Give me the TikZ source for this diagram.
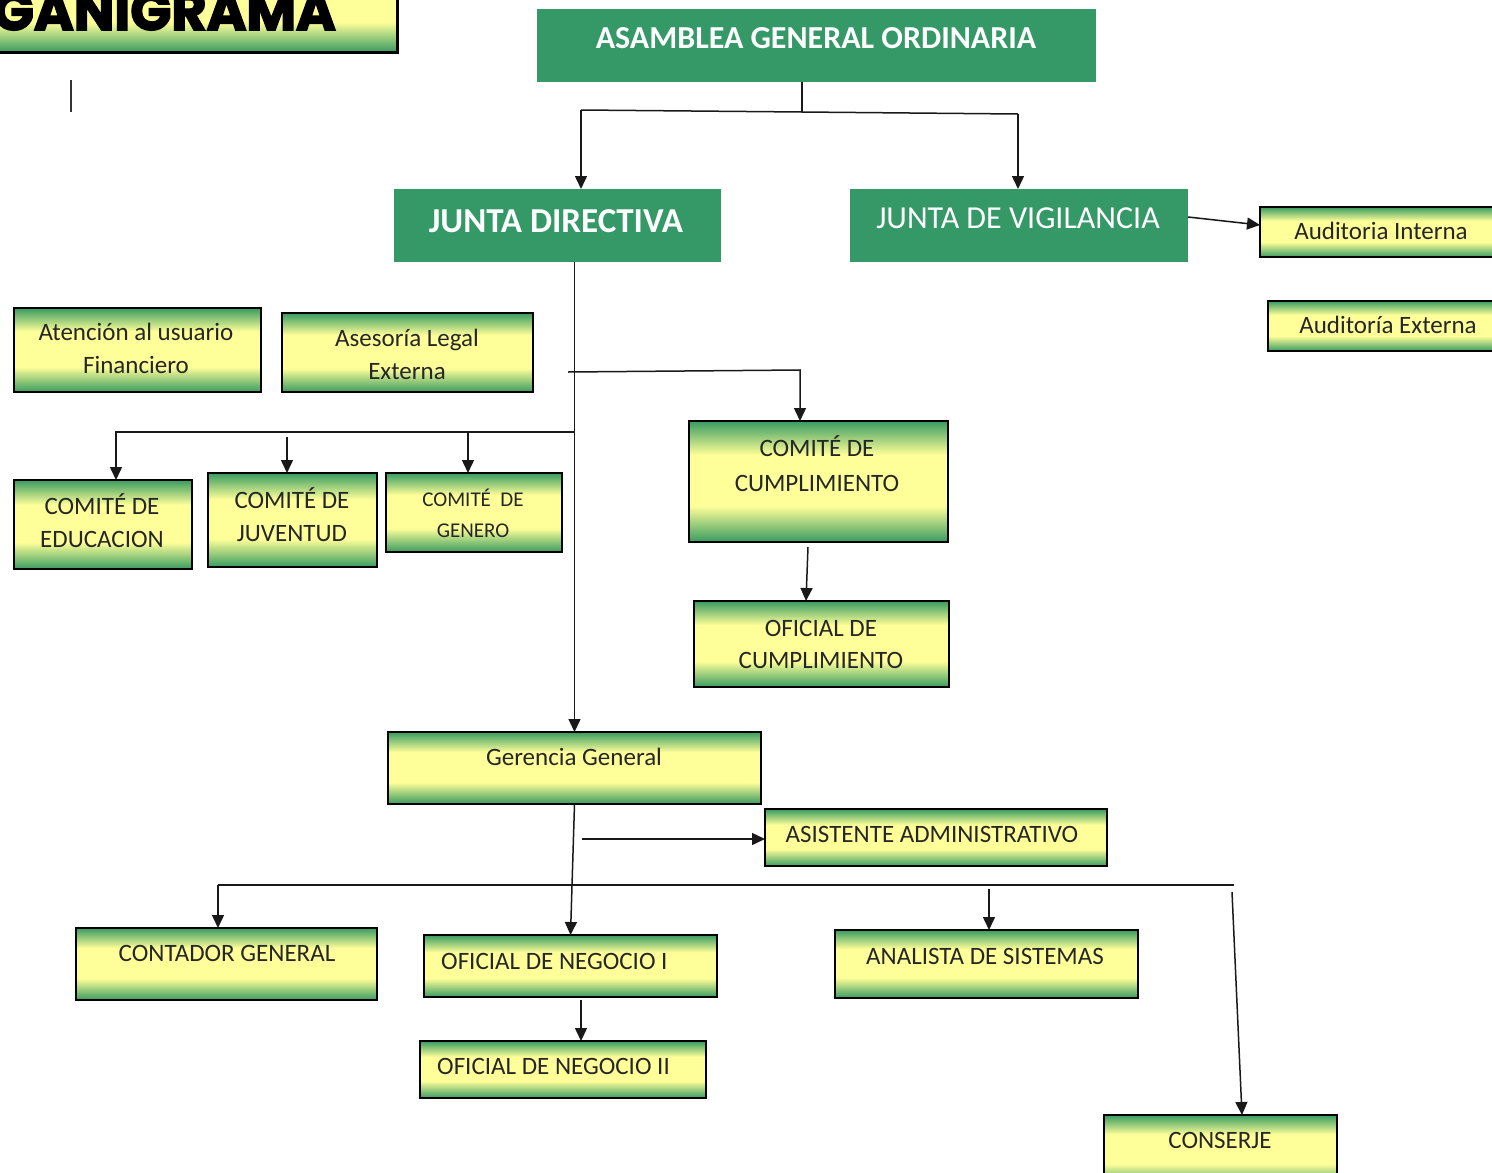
\documentclass[tikz,border=0pt]{standalone}
\usepackage{fontspec}
\setmainfont{Carlito}
\newfontfamily\titlefont[FakeBold=3]{Poppins}
\usetikzlibrary{arrows.meta,calc}
\definecolor{gdark}{RGB}{56,155,96}
\definecolor{gbox}{RGB}{52,153,102}
\definecolor{ylw}{RGB}{255,255,153}
\pgfdeclareverticalshading{gyshade}{100bp}{color(0bp)=(gdark); color(25bp)=(gdark); color(40bp)=(ylw); color(61bp)=(ylw); color(75bp)=(gdark); color(100bp)=(gdark)}
\tikzset{
  ybox/.style={draw=black, line width=1.8pt, shading=gyshade, inner sep=0pt, outer sep=0pt},
  gboxs/.style={fill=gbox, draw=none, inner sep=0pt, outer sep=0pt},
  lbl/.style={inner sep=0pt, align=center, text=black!85, font=\fontsize{25}{33}\selectfont},
  glbl/.style={inner sep=0pt, align=center, text=white},
  conn/.style={line width=1.5pt, draw=black!90},
  arr/.style={conn, -{Triangle[width=12pt,length=13pt]}}
}
\begin{document}
\begin{tikzpicture}[x=1pt,y=-1pt]
\useasboundingbox (0,0) rectangle (1492,1173);
\clip (0,0) rectangle (1492,1173);
% title
\node[ybox, line width=3pt, minimum width=420, minimum height=100] (title) at (187,2) {};
\node[anchor=base east, inner sep=0pt, font=\titlefont\bfseries\fontsize{54}{56}\selectfont] (ttitle) at (336,30) {GANIGRAMA};
\draw[line width=1.5pt, black!80] (71,80) -- (71,112);
% green boxes
\node[gboxs, minimum width=559, minimum height=73] (ASM) at (816.5,45.5) {};
\node[gboxs, minimum width=327, minimum height=73] (JD) at (557.5,225.5) {};
\node[gboxs, minimum width=338, minimum height=73] (JV) at (1019,225.5) {};
\node[glbl, font=\bfseries\fontsize{32}{36}\selectfont] (tASM) at (816,38) {ASAMBLEA GENERAL ORDINARIA};
\node[glbl, font=\bfseries\fontsize{35}{40}\selectfont] (tJD) at (556,221) {JUNTA DIRECTIVA};
\node[glbl, font=\fontsize{32}{36}\selectfont] (tJV) at (1018,218) {JUNTA DE VIGILANCIA};
% yellow boxes
\node[ybox, minimum width=240, minimum height=50] (AI) at (1380,232) {};
\node[ybox, minimum width=232, minimum height=50] (AE) at (1384,326) {};
\node[ybox, minimum width=247, minimum height=84] (A) at (137.5,350) {};
\node[ybox, minimum width=251, minimum height=79] (B) at (407.5,352.5) {};
\node[ybox, minimum width=178, minimum height=89] (EDU) at (103,524.5) {};
\node[ybox, minimum width=169, minimum height=94] (JUV) at (292.5,520) {};
\node[ybox, minimum width=176, minimum height=79] (GEN) at (474,512.5) {};
\node[ybox, minimum width=259, minimum height=121] (CCU) at (818.5,481.5) {};
\node[ybox, minimum width=255, minimum height=86] (OCU) at (821.5,644) {};
\node[ybox, minimum width=373, minimum height=72] (GG) at (574.5,768) {};
\node[ybox, minimum width=342, minimum height=57] (AA) at (936,837.5) {};
\node[ybox, minimum width=301, minimum height=72] (CG) at (226.5,964) {};
\node[ybox, minimum width=293, minimum height=62] (ON1) at (570.5,966) {};
\node[ybox, minimum width=286, minimum height=57] (ON2) at (563,1069.5) {};
\node[ybox, minimum width=303, minimum height=68] (AS) at (986.5,964) {};
\node[ybox, minimum width=233, minimum height=70] (CON) at (1220.5,1150) {};
% labels
\node[lbl] (tAI) at (1381,231) {Auditoria Interna};
\node[lbl] (tAE) at (1388,325) {Auditoría Externa};
\node[lbl] (tA) at (136,348.5) {Atención al usuario\\Financiero};
\node[lbl] (tB) at (407,354) {Asesoría Legal\\Externa};
\node[lbl] (tEDU) at (102,520.5) {COMITÉ DE\\EDUCACION};
\node[lbl] (tJUV) at (292,515) {COMITÉ DE\\JUVENTUD};
\node[lbl, font=\fontsize{21}{31}\selectfont] (tGEN) at (473,513.5) {COMITÉ\ \ DE\\GENERO};
\node[lbl, font=\fontsize{25}{35}\selectfont] (tCCU) at (817,463.5) {COMITÉ DE\\CUMPLIMIENTO};
\node[lbl, font=\fontsize{25}{32}\selectfont] (tOCU) at (821,644) {OFICIAL DE\\CUMPLIMIENTO};
\node[lbl] (tGG) at (574,757) {Gerencia General};
\node[lbl] (tAA) at (932,834) {ASISTENTE ADMINISTRATIVO};
\node[lbl] (tCG) at (227,953) {CONTADOR GENERAL};
\node[lbl, anchor=west] (tON1) at (441,961) {OFICIAL DE NEGOCIO I};
\node[lbl, anchor=west] (tON2) at (437,1066) {OFICIAL DE NEGOCIO II};
\node[lbl] (tAS) at (985,956) {ANALISTA DE SISTEMAS};
\node[lbl] (tCON) at (1220,1140) {CONSERJE};
% connectors
\coordinate (j1) at (802,112);
\coordinate (jL) at (581,110);
\coordinate (jR) at (1018,114);
\draw[conn] (ASM.south -| j1) -- (j1);
\draw[conn] (jL) -- (j1) -- (jR);
\draw[arr] (jL) -- (JD.north -| jL);
\draw[arr] (jR) -- (JV.north -| jR);
\draw[arr] ($(JV.east)+(0,-8.5)$) -- ($(AI.west)+(0,-7)$);
\draw[arr] (JD.south -| GG.north) -- (GG.north);
\coordinate (b1) at (568,372);
\coordinate (b1r) at (800,370);
\draw[arr] (b1) -- (b1r) -- (CCU.north -| b1r);
\coordinate (b2) at (574.5,432);
\coordinate (b2l) at (116,432);
\draw[arr] (b2) -- (b2l) -- (EDU.north -| b2l);
\coordinate (c1) at (287,437);
\draw[arr] (c1) -- (JUV.north -| c1);
\coordinate (c2) at (468,432);
\draw[arr] (c2) -- (GEN.north -| c2);
\draw[arr] ($(CCU.south)+(-10.5,5)$) -- ($(OCU.north)+(-15.5,0)$);
\draw[arr] (GG.south) -- (ON1.north);
\coordinate (a1) at (582,839);
\draw[arr] (a1) -- (AA.west |- a1);
\coordinate (bus1) at (218,885);
\coordinate (bus2) at (1234,885);
\draw[conn] (bus1) -- (bus2);
\draw[arr] (bus1) -- (CG.north -| bus1);
\coordinate (c3) at (989,889);
\draw[arr] (c3) -- (AS.north -| c3);
\coordinate (c4) at (1232,892);
\draw[arr] (c4) -- ($(CON.north)+(21.5,0)$);
\draw[arr] ($(ON1.south)+(10.5,3)$) -- ($(ON2.north)+(18,0)$);
\end{tikzpicture}
\end{document}
